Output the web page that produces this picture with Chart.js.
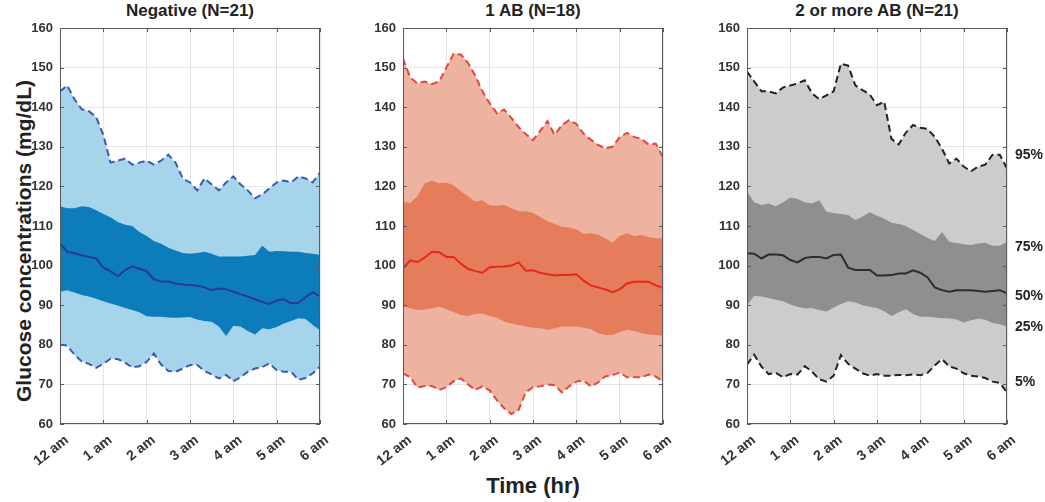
<!DOCTYPE html>
<html>
<head>
<meta charset="utf-8">
<script src="https://cdn.jsdelivr.net/npm/chart.js@4.4.1/dist/chart.umd.min.js"></script>
<style>
body { margin:0; background:#fff; width:1045px; height:502px; position:relative; overflow:hidden; font-family:"Liberation Sans", Arial, sans-serif; }
canvas { position:absolute; top:0; }
.ttl { position:absolute; top:1px; width:300px; text-align:center; font-weight:bold; font-size:17px; color:#222; }
#ylab { position:absolute; left:-176px; top:229px; width:400px; text-align:center; transform:rotate(-90deg); font-weight:bold; font-size:21px; color:#222; }
#xlab { position:absolute; left:383px; top:473px; width:300px; text-align:center; font-weight:bold; font-size:22px; color:#222; }
</style>
</head>
<body>
<div class="ttl" style="left:40px">Negative (N=21)</div>
<div class="ttl" style="left:383px">1 AB (N=18)</div>
<div class="ttl" style="left:727px">2 or more AB (N=21)</div>
<div id="ylab">Glucose concentrations (mg/dL)</div>
<div id="xlab">Time (hr)</div>
<canvas id="c1" width="330" height="480" style="left:10px"></canvas>
<canvas id="c2" width="330" height="480" style="left:353px"></canvas>
<canvas id="c3" width="348" height="480" style="left:697px"></canvas>
<script>
// time axis (minutes after midnight), one point every 10 min
const minutes = [0,10,20,30,40,50,60,70,80,90,100,110,120,130,140,150,160,170,180,190,200,210,220,230,240,250,260,270,280,290,300,310,320,330,340,350,360];
const hourLabels = ['12 am','1 am','2 am','3 am','4 am','5 am','6 am'];
const pctLabels = ['95%','75%','50%','25%','5%'];

// Negative (N=21)
const negP95 = [144,145.5,142,139.5,139,137.5,133,126,126.5,127,125.5,126,126.5,125.5,126.5,128,126,122,121,119,122,120.5,119,121,122.5,120.5,119,117,118,119.5,121,121.5,121,122.5,122,121,123.5];
const negP75 = [115,114.5,114.5,115,114.8,114,113,112.2,111,110.3,110,108.5,107.5,106.2,105.5,104.5,103.8,103.2,103,103.2,103.5,103,102.3,102.3,102.3,102.3,102.5,102.7,105,103.5,103.7,103.6,103.5,103.5,103.2,103,102.7];
const negP50 = [105.6,103.5,103.1,102.6,102.2,101.8,99.5,98.6,97.3,98.8,99.8,99.2,98.6,96.5,96,96,95.5,95.2,95.1,94.9,94.5,93.8,94.2,94,93.4,92.8,92.2,91.5,90.8,90.3,91.2,91.5,90.5,90.6,92,93.3,92.2];
const negP25 = [93.4,93.8,93.2,92.6,92.2,91.6,91,90.4,89.9,89.3,88.8,88.2,87.2,87.1,87.1,86.9,86.8,86.9,87,86.4,86,85.8,84.6,82.2,84.8,84.6,83.5,82.6,84.2,83.9,84.5,85.4,86,86.7,86.5,85,83.7];
const negP5 = [80,79.8,77.5,75.8,75.2,74.2,75.2,76.5,76.4,75.5,74.3,74.6,75.7,77.8,75,73.4,73.2,74,74.9,74.9,73.4,72.5,71.5,72.4,70.8,71.8,73.2,74,74.4,75.3,73.6,73.2,73.2,71.2,71.6,72.8,74.5];

// 1 AB (N=18)
const ab1P95 = [152.3,147.5,146,146.5,145.8,146.5,150,153.5,153.3,151.2,148,144,141,138.5,139.4,137.3,135,133.2,131.7,134,136.5,133,135.5,136.7,135.8,133.3,131.8,130.5,129.6,130,132.4,133.5,132.5,132,130.6,130.8,127.3];
const ab1P75 = [116.1,115.8,117.5,120.8,121.4,120.8,121,120.3,118.8,117.5,116.2,116.5,115.2,115.1,115.3,114.5,113.7,113.7,113.3,112.3,111.2,110.5,109.8,109.6,109.2,108,108.2,107.8,106.9,105.8,107.5,108.2,107.4,107.7,107.2,106.9,106.9];
const ab1P50 = [99.3,101.3,100.9,102,103.5,103.4,102.2,102.2,100.5,99.2,98.6,98.2,99.6,99.7,99.8,100,100.8,98.7,98.8,98.2,97.8,97.5,97.7,97.6,97.8,96.2,95,94.5,94,93.3,94,95.5,95.9,95.9,95.9,95,94.3];
const ab1P25 = [89.6,89.2,88.8,88.9,89.2,89.6,89,88.3,87.5,87.3,87.8,87.9,87.3,86.8,85.9,85.4,85,84.6,84.3,84.2,83.8,84.2,84.6,84.6,84.6,84.3,84,83,82.5,82.5,83.2,83.8,83.5,83,82.6,82.5,82.3];
const ab1P5 = [72.8,71.8,69.2,69.6,69.6,68.6,69.3,70.8,71.5,70,68.6,69.5,68.5,66,64,62.5,63.5,68,69.3,69.5,70,69.8,68,69.5,70.7,71,69.5,70.5,72,72.3,73,71.8,71.8,71.8,72.5,72,70.7];

// 2 or more AB (N=21)
const ab2P95 = [149,146.5,144,144,143.5,145,145.5,146,146.8,143.5,142,143,144,151,150.5,145.5,144.3,143.2,140.5,141.4,132,130.6,133.6,135.5,134.8,134.5,132.5,129.5,125.8,127,125,123.8,125,125.5,128,128,124.5];
const ab2P75 = [118.7,116,115.3,115.7,115,116,117.2,116.8,116,115.7,116.5,113.6,113.3,113,112.8,111.5,112.4,113.5,112.6,111.8,110.8,110.5,110,109,108,107,106.2,108.5,106,105.7,105.4,105.2,105.6,105.8,105,105,106];
const ab2P50 = [103.1,103,101.8,102.8,102.8,102.6,101.4,100.8,101.9,102.2,102.2,101.8,102.7,102.8,99.5,98.9,98.9,98.9,97.5,97.5,97.6,98,98,98.8,98.2,97,94.5,93.8,93.4,93.8,93.8,93.8,93.6,93.4,93.6,93.8,93];
const ab2P25 = [90,92.4,92.2,91.8,91.4,91,90.2,89.6,89.2,89.2,88.8,88.4,89.4,90.3,91,90.7,90,89.6,89.3,88.5,87.3,88.2,89,87.8,87.1,87.1,86.9,86.7,86.7,86.4,85.6,86.2,86.6,86.3,85.5,85.2,84.6];
const ab2P5 = [75,77.5,74.5,72.6,72.9,71.8,72.6,72.5,74.6,73.2,71.3,70.7,72.2,77.4,75.2,74,72.8,72.2,72.6,72.2,72.2,72.4,72.3,72.5,72.3,72.9,74.8,76.4,74.5,74,72.8,72.2,72,71.6,70.7,70.4,68];

const yFont = { family: 'Liberation Sans', size: 13, weight: 'bold' };
const xFont = { family: 'Liberation Sans', size: 14, weight: 'bold' };
const tickColor = '#333';
const gridColor = 'rgba(0,0,0,0.1)';

// box round the plot area + small inward ticks like matlab
const boxPlugin = {
    id: 'box',
    afterDraw(chart) {
        const ctx = chart.ctx, a = chart.chartArea;
        const xs = chart.scales.x, ys = chart.scales.y;
        ctx.save();
        ctx.strokeStyle = '#5a5a5a';
        ctx.lineWidth = 1;
        ctx.strokeRect(a.left + 0.5, a.top + 0.5, a.right - a.left - 1, a.bottom - a.top - 1);
        ctx.beginPath();
        ys.ticks.forEach(t => {
            const y = Math.round(ys.getPixelForValue(t.value)) + 0.5;
            ctx.moveTo(a.left, y); ctx.lineTo(a.left + 4, y);
            ctx.moveTo(a.right, y); ctx.lineTo(a.right - 4, y);
        });
        xs.ticks.forEach(t => {
            const x = Math.round(xs.getPixelForValue(t.value)) + 0.5;
            ctx.moveTo(x, a.bottom); ctx.lineTo(x, a.bottom - 4);
            ctx.moveTo(x, a.top); ctx.lineTo(x, a.top + 4);
        });
        ctx.stroke();
        ctx.restore();
    }
};

// percentile names on the right of the last panel
const pctPlugin = {
    id: 'pct',
    afterDraw(chart) {
        const ctx = chart.ctx, a = chart.chartArea, ys = chart.scales.y;
        const at = [127.8, 104.7, 92.4, 84.5, 70.6];
        ctx.save();
        ctx.font = 'bold 14px "Liberation Sans"';
        ctx.fillStyle = '#222';
        ctx.textBaseline = 'middle';
        pctLabels.forEach((txt, i) => ctx.fillText(txt, a.right + 8, ys.getPixelForValue(at[i])));
        ctx.restore();
    }
};

function makePanel(id, s, col, rightPad, extra) {
    const dash = [7, 4];
    return new Chart(document.getElementById(id), {
        type: 'line',
        data: {
            labels: minutes,
            datasets: [
                { data: s[0], borderColor: col.dash, borderWidth: 2, borderDash: dash, backgroundColor: col.light, fill: 4, order: 2 },
                { data: s[1], borderColor: 'rgba(0,0,0,0)', borderWidth: 1, backgroundColor: col.dark, fill: 3, order: 1 },
                { data: s[2], borderColor: col.mid, borderWidth: 2, fill: false, order: 0 },
                { data: s[3], borderColor: 'rgba(0,0,0,0)', borderWidth: 1, fill: false, order: 0 },
                { data: s[4], borderColor: col.dash, borderWidth: 2, borderDash: dash, fill: false, order: 0 }
            ]
        },
        options: {
            responsive: false,
            animation: false,
            elements: { point: { radius: 0 }, line: { tension: 0 } },
            layout: { padding: { left: 0, top: 28, right: rightPad, bottom: 0 } },
            plugins: {
                legend: { display: false },
                tooltip: { enabled: false },
                filler: { drawTime: 'beforeDatasetsDraw' }
            },
            scales: {
                x: {
                    type: 'linear', min: 0, max: 360, z: 1,
                    afterBuildTicks: sc => { sc.ticks = hourLabels.map((_, i) => ({ value: i * 60 })); },
                    afterFit: sc => { sc.height = 56; },
                    ticks: { autoSkip: false, minRotation: 38, maxRotation: 38, padding: 8, labelOffset: 7,
                             font: xFont, color: tickColor, callback: v => hourLabels[v / 60] },
                    grid: { color: gridColor, drawTicks: false },
                    border: { display: false }
                },
                y: {
                    min: 60, max: 160, z: 1,
                    afterFit: sc => { sc.width = 50; },
                    ticks: { stepSize: 10, padding: 7, font: yFont, color: tickColor },
                    grid: { color: gridColor, drawTicks: false },
                    border: { display: false }
                }
            }
        },
        plugins: [boxPlugin].concat(extra || [])
    });
}

makePanel('c1', [negP95, negP75, negP50, negP25, negP5],
    { light: '#a6d4eb', dark: '#0c7cbb', mid: '#283c8c', dash: '#3c5aaf' }, 20);
makePanel('c2', [ab1P95, ab1P75, ab1P50, ab1P25, ab1P5],
    { light: '#eeb2a0', dark: '#e57d5c', mid: '#e8281e', dash: '#e4463c' }, 20);
makePanel('c3', [ab2P95, ab2P75, ab2P50, ab2P25, ab2P5],
    { light: '#cccccc', dark: '#8f8f8f', mid: '#2d2d2d', dash: '#232323' }, 38, [pctPlugin]);
</script>
</body>
</html>
